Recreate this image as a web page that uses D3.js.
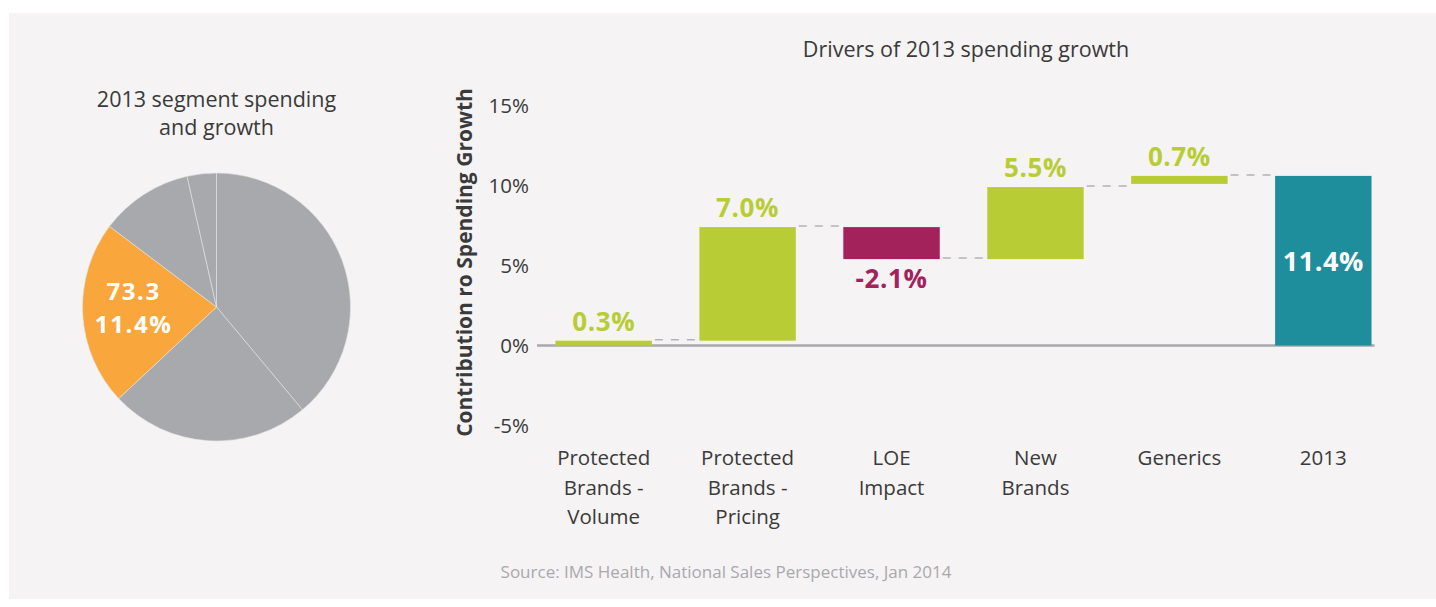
<!DOCTYPE html>
<html>
<head>
<meta charset="utf-8">
<script src="https://cdn.jsdelivr.net/npm/d3@7"></script>
<style>
  body { margin: 0; background: #ffffff; }
  svg text { font-family: "Open Sans", "Noto Sans", sans-serif; }
</style>
</head>
<body>
<div id="chart"></div>
<script>
// pie: 2013 segment spending ($bn), orange slice is the highlighted one
var segmentNames = ["Segment A", "Segment B", "Highlighted", "Segment D", "Segment E"];
var segmentValues = [128.2, 79.4, 73.3, 36.9, 11.6];
var highlightIndex = 2;
var highlightLines = ["73.3", "11.4%"];

// waterfall: drivers of 2013 spending growth
var categories = ["Protected Brands - Volume", "Protected Brands - Pricing", "LOE Impact", "New Brands", "Generics", "2013"];
var categoryLines = [["Protected", "Brands -", "Volume"], ["Protected", "Brands -", "Pricing"], ["LOE", "Impact"], ["New", "Brands"], ["Generics"], ["2013"]];
var barStart = [0, 0.3, 7.4, 5.4, 10.1, 0];   // as drawn in the picture
var barEnd = [0.3, 7.4, 5.4, 9.9, 10.6, 10.6];
var barLabels = ["0.3%", "7.0%", "-2.1%", "5.5%", "0.7%", "11.4%"];
var barKind = ["up", "up", "down", "up", "up", "total"];
var yTicks = [-5, 0, 5, 10, 15];

function init() {
    var w = 1436, h = 607;

    var svg = d3.select("#chart")
        .append("svg")
        .attr("width", w)
        .attr("height", h);

    // grey panel
    svg.append("rect")
        .attr("x", 9)
        .attr("y", 13)
        .attr("width", w - 9)
        .attr("height", 586)
        .attr("fill", "#f5f3f4");

    var textColor = "#3a3a3a";
    var colors = { up: "#b8cd35", down: "#a4225c", total: "#1e8e9c" };

    // ---------- pie ----------
    var cx = 216.5, cy = 307, r = 134;

    var pie = d3.pie().sort(null).value(function(d) { return d; });
    var arc = d3.arc().innerRadius(0).outerRadius(r);
    var labelArc = d3.arc().innerRadius(0).outerRadius(166); // centroid at r ~83

    var pg = svg.append("g").attr("transform", "translate(" + cx + "," + cy + ")");
    var arcs = pie(segmentValues);

    pg.selectAll("path")
        .data(arcs)
        .enter()
        .append("path")
        .attr("d", arc)
        .attr("fill", function(d, i) { return i === highlightIndex ? "#f9a63d" : "#a7a9ac"; })
        .attr("stroke", "#e4e4e6")
        .attr("stroke-width", 0.6);

    // two-line label
    var c = labelArc.centroid(arcs[highlightIndex]);
    var hl = pg.append("text")
        .attr("text-anchor", "middle")
        .attr("fill", "#ffffff")
        .attr("font-weight", "bold")
        .attr("font-size", 24)
        .attr("letter-spacing", 1.6);
    hl.append("tspan")
        .attr("x", c[0])
        .attr("y", c[1] - 11)
        .text(highlightLines[0]);
    hl.append("tspan")
        .attr("x", c[0])
        .attr("y", c[1] + 22)
        .text(highlightLines[1]);

    // pie title
    svg.append("text")
        .attr("x", cx)
        .attr("y", 107)
        .attr("text-anchor", "middle")
        .attr("fill", textColor)
        .attr("font-size", 21.5)
        .text("2013 segment spending");
    svg.append("text")
        .attr("x", cx)
        .attr("y", 135)
        .attr("text-anchor", "middle")
        .attr("fill", textColor)
        .attr("font-size", 21.5)
        .text("and growth");

    // ---------- waterfall ----------
    var xScale = d3.scaleBand()
        .domain(categories)
        .range([531, 1396])
        .paddingInner(0.33)
        .paddingOuter(0.17);

    var yScale = d3.scaleLinear()
        .domain([-5, 15])
        .range([425.5, 105.5]);

    var bw = xScale.bandwidth();

    svg.append("text")
        .attr("x", 966)
        .attr("y", 57)
        .attr("text-anchor", "middle")
        .attr("fill", textColor)
        .attr("font-size", 21.5)
        .text("Drivers of 2013 spending growth");

    // y axis labels only
    var yAxis = d3.axisLeft(yScale)
        .tickValues(yTicks)
        .tickSize(0)
        .tickPadding(0)
        .tickFormat(function(d) { return d + "%"; });

    var yg = svg.append("g")
        .attr("transform", "translate(529,0)")
        .call(yAxis);
    yg.select(".domain").remove();
    yg.selectAll("text")
        .attr("fill", textColor)
        .attr("font-size", 20.5)
        .style("font-family", "'Open Sans', sans-serif");

    // y axis title
    svg.append("text")
        .attr("transform", "translate(472," + (yScale(5) - 3) + ") rotate(-90)")
        .attr("text-anchor", "middle")
        .attr("fill", textColor)
        .attr("font-weight", "bold")
        .attr("font-size", 21)
        .text("Contribution ro Spending Growth");

    // zero line
    var last = categories[categories.length - 1];
    svg.append("line")
        .attr("x1", xScale.range()[0] + 6)
        .attr("x2", xScale(last) + bw + 3)
        .attr("y1", yScale(0))
        .attr("y2", yScale(0))
        .attr("stroke", "#a7a9ac")
        .attr("stroke-width", 2.5);

    // connectors between bars
    for (var i = 0; i < categories.length - 1; i++) {
        svg.append("line")
            .attr("x1", xScale(categories[i]) + bw + 3)
            .attr("x2", xScale(categories[i + 1]) - 3)
            .attr("y1", yScale(barEnd[i]) - 1)
            .attr("y2", yScale(barEnd[i]) - 1)
            .attr("stroke", "#b3b3b5")
            .attr("stroke-width", 1.5)
            .attr("stroke-dasharray", "8 8");
    }

    // bars
    svg.selectAll(".bar")
        .data(categories)
        .enter()
        .append("rect")
        .attr("class", "bar")
        .attr("x", function(d) { return xScale(d); })
        .attr("width", bw)
        .attr("y", function(d, i) { return yScale(Math.max(barStart[i], barEnd[i])); })
        .attr("height", function(d, i) { return Math.abs(yScale(barStart[i]) - yScale(barEnd[i])); })
        .attr("fill", function(d, i) { return colors[barKind[i]]; });

    // value labels
    svg.selectAll(".valueLabel")
        .data(categories)
        .enter()
        .append("text")
        .attr("class", "valueLabel")
        .attr("x", function(d) { return xScale(d) + bw / 2; })
        .attr("y", function(d, i) {
            if (barKind[i] === "total") return (yScale(barStart[i]) + yScale(barEnd[i])) / 2 + 10;
            if (barKind[i] === "down") return yScale(barEnd[i]) + 29;
            return yScale(barEnd[i]) - 10;
        })
        .attr("text-anchor", "middle")
        .attr("font-weight", "bold")
        .attr("font-size", function(d, i) { return barKind[i] === "total" ? 27 : 26; })
        .attr("letter-spacing", 0.6)
        .attr("fill", function(d, i) { return barKind[i] === "total" ? "#ffffff" : colors[barKind[i]]; })
        .text(function(d, i) { return barLabels[i]; });

    // category labels
    var cl = svg.selectAll(".catLabel")
        .data(categories)
        .enter()
        .append("text")
        .attr("class", "catLabel")
        .attr("text-anchor", "middle")
        .attr("fill", textColor)
        .attr("font-size", 20.5);

    cl.each(function(d, i) {
        var t = d3.select(this);
        categoryLines[i].forEach(function(line, j) {
            t.append("tspan")
                .attr("x", xScale(d) + bw / 2)
                .attr("y", 465 + j * 29.5)
                .text(line);
        });
    });

    // source
    svg.append("text")
        .attr("x", 726)
        .attr("y", 578)
        .attr("text-anchor", "middle")
        .attr("fill", "#a9a9ac")
        .attr("font-size", 17)
        .text("Source: IMS Health, National Sales Perspectives, Jan 2014");
}

window.onload = init;
</script>
</body>
</html>
